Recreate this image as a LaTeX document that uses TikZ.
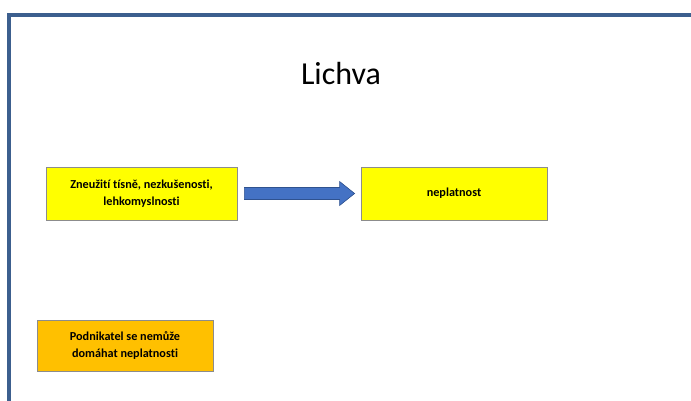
\documentclass[tikz,border=0pt]{standalone}
\usepackage{fontspec}
\setmainfont[Ligatures=NoCommon]{Carlito}
\usetikzlibrary{calc}
\begin{document}
\begin{tikzpicture}[x=1pt,y=-1pt,
  box/.style={draw=black!45, line width=0.8pt, align=center, font=\fontsize{12.2}{16.5}\selectfont\bfseries, inner sep=0pt}]
\definecolor{framec}{HTML}{3C5F8E}
\definecolor{ylw}{HTML}{FFFF00}
\definecolor{org}{HTML}{FFC000}
\definecolor{arrc}{HTML}{4472C4}
\definecolor{arrb}{HTML}{2F528F}
\useasboundingbox (0,0) rectangle (691,401);
\fill[white] (0,0) rectangle (691,401);
\draw[framec, line width=4.5pt] (9,401) -- (9,15) -- (691,15);
\node (title) at (341,74) {\fontsize{32}{38}\selectfont Lichva};
\node[box, fill=ylw, minimum width=191pt, minimum height=53pt] (a) at (141.5,193.5) {Zneužití tísně, nezkušenosti,\\lehkomyslnosti};
\node[box, fill=ylw, minimum width=186pt, minimum height=53pt] (b) at (454,193.5) {neplatnost};
\node[box, fill=org, minimum width=176pt, minimum height=51pt] (c) at (125,345.5) {Podnikatel se nemůže\\domáhat neplatnosti};
\coordinate (s) at ([xshift=7pt]a.east);
\coordinate (e) at ([xshift=-6pt]b.west);
\fill[arrc, draw=arrb, line width=0.6pt] ($(s)+(0,-6)$) -- ($(e)+(-15,-6)$) -- ($(e)+(-15,-12)$) -- (e) -- ($(e)+(-15,12)$) -- ($(e)+(-15,6)$) -- ($(s)+(0,6)$) -- cycle;
\end{tikzpicture}
\end{document}
